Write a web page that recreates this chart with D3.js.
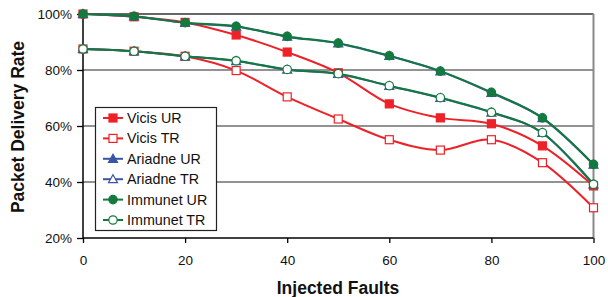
<!DOCTYPE html>
<html><head><meta charset="utf-8">
<script src="https://cdn.jsdelivr.net/npm/d3@7"></script>
<style>body{margin:0;background:#fff}svg{display:block}</style>
</head><body>
<script>
const faults = [0,10,20,30,40,50,60,70,80,90,100];
const vicisUR = [100,99.0,97.0,92.5,86.4,79.0,67.9,62.9,60.8,52.9,38.6];
const vicisTR = [87.5,86.7,84.9,79.8,70.4,62.5,55.1,51.4,55.1,46.9,30.8];
const ariadneUR = [100,99.1,96.8,95.5,91.9,89.5,85.0,79.5,71.8,62.8,46.2];
const ariadneTR = [87.5,86.7,84.9,83.2,80.1,78.6,74.3,70.0,64.8,57.5,39.1];
const immunetUR = [100,99.2,96.9,95.6,92.0,89.6,85.1,79.6,72.0,62.9,46.3];
const immunetTR = [87.5,86.7,84.9,83.3,80.2,78.7,74.4,70.1,64.9,57.6,39.2];
const yTicks = [20,40,60,80,100];
const xTicks = [0,20,40,60,80,100];
const seriesNames = ["Vicis UR","Vicis TR","Ariadne UR","Ariadne TR","Immunet UR","Immunet TR"];

const series = [
  {name:seriesNames[0], values:vicisUR, color:"#ee2128", marker:"square", filled:true},
  {name:seriesNames[1], values:vicisTR, color:"#ee2128", marker:"square", filled:false},
  {name:seriesNames[2], values:ariadneUR, color:"#3a55a4", marker:"triangle", filled:true},
  {name:seriesNames[3], values:ariadneTR, color:"#3a55a4", marker:"triangle", filled:false},
  {name:seriesNames[4], values:immunetUR, color:"#13793f", marker:"circle", filled:true},
  {name:seriesNames[5], values:immunetTR, color:"#13793f", marker:"circle", filled:false}
];

const W=608,H=297;
const svg=d3.select("body").append("svg").attr("width",W).attr("height",H)
  .style("font-family","'Liberation Sans', Arial, sans-serif");
const x=d3.scaleLinear().domain([0,100]).range([83,593.5]);
const y=d3.scaleLinear().domain([20,100]).range([238,14]);

// gridlines
svg.append("g").selectAll("line").data([40,60,80]).join("line")
  .attr("x1",x(0)).attr("x2",x(100)).attr("y1",d=>y(d)).attr("y2",d=>y(d))
  .attr("stroke","#6e6e6e").attr("stroke-width",1.3);
// top border & right border
svg.append("line").attr("x1",x(0)).attr("x2",x(100)).attr("y1",y(100)).attr("y2",y(100))
  .attr("stroke","#333").attr("stroke-width",1.3);
svg.append("line").attr("x1",x(100)).attr("x2",x(100)).attr("y1",y(100)).attr("y2",y(20))
  .attr("stroke","#888").attr("stroke-width",2);

// axes
const yAxis=d3.axisLeft(y).tickValues(yTicks).tickFormat(d=>d+"%").tickSize(6).tickPadding(5);
const gy=svg.append("g").attr("transform",`translate(${x(0)},0)`).call(yAxis);
const xAxis=d3.axisBottom(x).tickValues(xTicks).tickSize(5).tickPadding(12);
const gx=svg.append("g").attr("transform",`translate(0,${y(20)})`).call(xAxis);
[gx,gy].forEach(g=>{
  g.select(".domain").attr("stroke","#000").attr("stroke-width",1.5);
  g.selectAll(".tick line").attr("stroke","#000").attr("stroke-width",1.3);
  g.selectAll("text").attr("font-size",13.5).attr("fill","#111")
   .style("font-family","'Liberation Sans', Arial, sans-serif");
});
gy.select(".domain").attr("d",`M0,${y(20)}V${y(100)}`);
gx.select(".domain").attr("d",`M${x(0)},0H${x(100)}`);

// titles
svg.append("text").attr("x",338).attr("y",294).attr("text-anchor","middle")
  .attr("font-size",17.5).attr("font-weight","bold").attr("fill","#111").text("Injected Faults");
svg.append("text").attr("transform","translate(24,127) rotate(-90)").attr("text-anchor","middle")
  .attr("font-size",17.5).attr("font-weight","bold").attr("fill","#111").text("Packet Delivery Rate");

const line=d3.line().x((d,i)=>x(faults[i])).y(d=>y(d)).curve(d3.curveCatmullRom.alpha(0));

function drawMarker(g,s,cx,cy){
  const fill=s.filled?s.color:"#fff";
  if(s.marker==="square"){
    g.append("rect").attr("x",cx-4).attr("y",cy-4).attr("width",8).attr("height",8)
      .attr("fill",fill).attr("stroke",s.color).attr("stroke-width",1.2);
  } else if(s.marker==="triangle"){
    g.append("path").attr("d",`M${cx},${cy-4.5}L${cx+4.5},${cy+3.5}L${cx-4.5},${cy+3.5}Z`)
      .attr("fill",fill).attr("stroke",s.color).attr("stroke-width",1.2);
  } else {
    g.append("circle").attr("cx",cx).attr("cy",cy).attr("r",4.2)
      .attr("fill",fill).attr("stroke",s.color).attr("stroke-width",1.2);
  }
}

series.forEach(s=>{
  const g=svg.append("g");
  g.append("path").attr("d",line(s.values)).attr("fill","none")
    .attr("stroke",s.color).attr("stroke-width",2);
  s.values.forEach((v,i)=>drawMarker(g,s,x(faults[i]),y(v)));
});

// legend
const lg=svg.append("g");
lg.append("rect").attr("x",95.5).attr("y",107.5).attr("width",121).attr("height",123)
  .attr("fill","#fff").attr("stroke","#222").attr("stroke-width",1.2);
series.forEach((s,i)=>{
  const ly=118+i*20.4;
  lg.append("line").attr("x1",103).attr("x2",123).attr("y1",ly).attr("y2",ly)
    .attr("stroke",s.color).attr("stroke-width",2);
  drawMarker(lg,s,113,ly);
  lg.append("text").attr("x",127).attr("y",ly+5).attr("font-size",14.3).attr("fill","#111").text(s.name);
});
</script>
</body></html>
